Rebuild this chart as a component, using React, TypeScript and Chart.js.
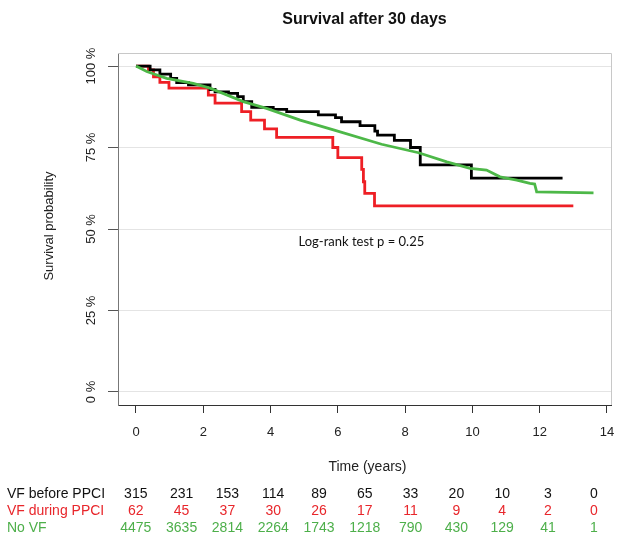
import React, { useEffect, useRef } from "react";
import { Chart, registerables } from "chart.js";

Chart.register(...registerables);

const TITLE = "Survival after 30 days";
const X_TITLE = "Time (years)";
const Y_TITLE = "Survival probability";
const LOGRANK = "Log-rank test p = 0.25";

const xTicks = [0, 2, 4, 6, 8, 10, 12, 14];
const yTicks = [0, 0.25, 0.5, 0.75, 1];
const yTickLabels = ["0 %", "25 %", "50 %", "75 %", "100 %"];

const seriesNames = ["VF before PPCI", "VF during PPCI", "No VF"];
const seriesColors = ["#000000", "#EE1F25", "#4DB848"];
const tableColors = ["#111111", "#E8262B", "#4DAF4A"];

const blackT = [0, 0.42, 0.71, 1.03, 1.21, 1.56, 2.2, 2.35, 2.75, 3.02, 3.19, 3.44, 4.08, 4.48, 5.42, 5.93, 6.11, 6.66, 7.1, 7.18, 7.68, 8.16, 8.45, 9.97, 12.68];
const blackS = [1, 0.988, 0.975, 0.962, 0.949, 0.942, 0.928, 0.921, 0.916, 0.906, 0.891, 0.873, 0.867, 0.86, 0.85, 0.842, 0.829, 0.817, 0.8, 0.788, 0.772, 0.75, 0.697, 0.656, 0.656];

const redT = [0, 0.37, 0.52, 0.71, 0.98, 2.15, 2.35, 3.14, 3.41, 3.82, 4.18, 5.85, 6.0, 6.71, 6.76, 6.8, 7.09, 13.0];
const redS = [1, 0.988, 0.967, 0.95, 0.932, 0.911, 0.886, 0.86, 0.834, 0.807, 0.781, 0.75, 0.719, 0.683, 0.645, 0.609, 0.571, 0.571];

const greenT = [0, 0.32, 0.91, 1.7, 2.2, 3.19, 3.88, 4.88, 5.87, 7.3, 8.4, 9.24, 9.93, 10.42, 10.82, 11.32, 11.71, 11.85, 11.91, 13.6];
const greenS = [1, 0.983, 0.962, 0.947, 0.932, 0.891, 0.87, 0.834, 0.804, 0.76, 0.734, 0.706, 0.686, 0.681, 0.66, 0.65, 0.64, 0.638, 0.614, 0.611];

const riskBefore = ["315", "231", "153", "114", "89", "65", "33", "20", "10", "3", "0"];
const riskDuring = ["62", "45", "37", "30", "26", "17", "11", "9", "4", "2", "0"];
const riskNone = ["4475", "3635", "2814", "2264", "1743", "1218", "790", "430", "129", "41", "1"];

const toPts = (t: number[], s: number[]) => t.map((v, i) => ({ x: v, y: s[i] }));

const FONT = "Arial, 'Liberation Sans', Helvetica, sans-serif";

export default function App() {
  const ref = useRef<HTMLCanvasElement | null>(null);

  useEffect(() => {
    const canvas = ref.current;
    if (!canvas) return;

    const overlay = {
      id: "overlay",
      afterDraw(chart: any) {
        const ctx = chart.ctx as CanvasRenderingContext2D;
        const xs = chart.scales.x;
        const ys = chart.scales.y;
        const a = chart.chartArea;
        const cx = (a.left + a.right) / 2;
        ctx.save();
        // light frame top/right
        ctx.strokeStyle = "#c8c8c8";
        ctx.lineWidth = 1;
        ctx.beginPath();
        ctx.moveTo(a.left, a.top + 0.5);
        ctx.lineTo(a.right + 0.5, a.top + 0.5);
        ctx.lineTo(a.right + 0.5, a.bottom);
        ctx.stroke();

        ctx.fillStyle = "#111";
        ctx.textAlign = "center";
        ctx.textBaseline = "middle";
        // title
        ctx.font = `bold 16px ${FONT}`;
        ctx.fillText(TITLE, cx, 20);
        // x tick labels
        ctx.font = `13px ${FONT}`;
        ctx.fillStyle = "#222";
        xTicks.forEach((v) => ctx.fillText(String(v), xs.getPixelForValue(v), 432));
        // x title
        ctx.font = `14px ${FONT}`;
        ctx.fillText(X_TITLE, cx + 3, 467);
        // y tick labels rotated
        ctx.font = `13px ${FONT}`;
        yTicks.forEach((v, i) => {
          ctx.save();
          ctx.translate(91, ys.getPixelForValue(v));
          ctx.rotate(-Math.PI / 2);
          ctx.fillText(yTickLabels[i], 0, 0);
          ctx.restore();
        });
        // y title
        ctx.save();
        ctx.translate(49, 226);
        ctx.rotate(-Math.PI / 2);
        ctx.fillText(Y_TITLE, 0, 0);
        ctx.restore();
        // log-rank
        ctx.font = `13px Lato, 'Open Sans', sans-serif`;
        ctx.fillStyle = "#111";
        ctx.fillText(LOGRANK, xs.getPixelForValue(6.7), ys.getPixelForValue(0.461));
        // risk table
        ctx.font = `14px ${FONT}`;
        const rows = [riskBefore, riskDuring, riskNone];
        const rowY = [494, 511, 528.5];
        rows.forEach((row, r) => {
          ctx.fillStyle = tableColors[r];
          ctx.textAlign = "left";
          ctx.fillText(seriesNames[r], 7, rowY[r]);
          ctx.textAlign = "center";
          row.forEach((val, c) => ctx.fillText(val, 135.8 + c * 45.8, rowY[r]));
        });
        ctx.restore();
      },
    };

    const mk = (label: string, t: number[], s: number[], color: string, stepped: boolean) => ({
      label,
      data: toPts(t, s),
      borderColor: color,
      backgroundColor: color,
      borderWidth: 2.8,
      pointRadius: 0,
      stepped: stepped ? ("before" as const) : false,
      tension: 0,
      fill: false,
    });

    const chart = new Chart(canvas, {
      type: "line",
      data: {
        datasets: [
          mk(seriesNames[2], greenT, greenS, seriesColors[2], false),
          mk(seriesNames[0], blackT, blackS, seriesColors[0], true),
          mk(seriesNames[1], redT, redS, seriesColors[1], true),
        ],
      },
      plugins: [overlay],
      options: {
        animation: false,
        responsive: false,
        devicePixelRatio: 1,
        layout: { padding: { top: 53, right: 7, left: 0, bottom: 0 } },
        plugins: { legend: { display: false }, tooltip: { enabled: false }, title: { display: false } },
        scales: {
          x: {
            type: "linear",
            min: -0.535,
            max: 14.12,
            afterBuildTicks: (s: any) => {
              s.ticks = xTicks.map((v) => ({ value: v }));
            },
            afterFit: (s: any) => {
              s.height = 132;
            },
            ticks: { display: false },
            grid: { drawOnChartArea: false, drawTicks: true, tickLength: 8, color: "#333", tickColor: "#333" },
            border: { display: true, color: "#333", width: 1 },
          },
          y: {
            type: "linear",
            min: -0.04,
            max: 1.04,
            afterBuildTicks: (s: any) => {
              s.ticks = yTicks.map((v) => ({ value: v }));
            },
            afterFit: (s: any) => {
              s.width = 118;
            },
            ticks: { display: false },
            grid: { color: "#e4e4e4", lineWidth: 1, drawTicks: true, tickLength: 10, tickColor: "#555" },
            border: { display: true, color: "#777", width: 1 },
          },
        },
      },
    });
    return () => chart.destroy();
  }, []);

  return (
    <div style={{ position: "absolute", left: 0, top: 0, width: 618, height: 537, background: "#fff" }}>
      <canvas ref={ref} width={618} height={537} style={{ width: 618, height: 537, display: "block" }} />
    </div>
  );
}
